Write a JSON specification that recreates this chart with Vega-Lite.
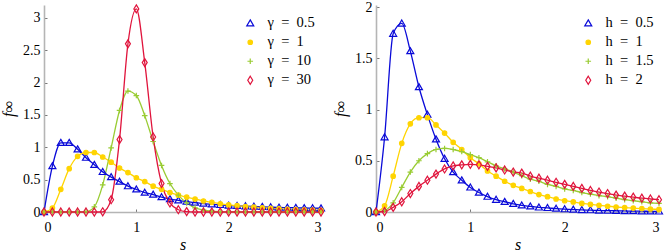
{
  "$schema": "https://vega.github.io/schema/vega-lite/v6.json",
  "padding": {"left": 0, "top": 0, "right": 0, "bottom": 0},
  "bounds": "flush",
  "spacing": 55,
  "config": {
    "view": {"stroke": null},
    "font": "Liberation Serif, Times New Roman, serif",
    "axis": {
      "grid": false,
      "domainColor": "#b5b5b5",
      "domainWidth": 1.6,
      "tickColor": "#555555",
      "tickSize": -3,
      "tickWidth": 0.8,
      "labelFont": "Liberation Serif, Times New Roman, serif",
      "labelFontSize": 14,
      "labelColor": "#000000",
      "titleFont": "Liberation Serif, Times New Roman, serif",
      "titleFontSize": 16,
      "titleFontWeight": "normal",
      "titleFontStyle": "italic",
      "titleColor": "#000000",
      "format": "~g"
    },
    "legend": {
      "labelFont": "Liberation Serif, Times New Roman, serif",
      "labelFontSize": 14.5,
      "labelColor": "#000000",
      "symbolSize": 64,
      "symbolStrokeWidth": 1.2,
      "rowPadding": 4,
      "labelOffset": 10,
      "padding": 0,
      "orient": "none"
    }
  },
  "datasets": {
    "L": [
      {"s": 0, "a": 0, "b": 0, "c": 0, "d": 0},
      {"s": 0.091, "a": 0.71, "b": 0.06, "c": 0, "d": 0},
      {"s": 0.182, "a": 1.07, "b": 0.35, "c": 0, "d": 0},
      {"s": 0.273, "a": 1.07, "b": 0.67, "c": 0, "d": 0},
      {"s": 0.364, "a": 0.97, "b": 0.86, "c": 0, "d": 0},
      {"s": 0.455, "a": 0.84, "b": 0.92, "c": 0.005, "d": 0},
      {"s": 0.545, "a": 0.73, "b": 0.92, "c": 0.08, "d": 0},
      {"s": 0.636, "a": 0.62, "b": 0.85, "c": 0.42, "d": 0.003},
      {"s": 0.727, "a": 0.54, "b": 0.77, "c": 0.99, "d": 0.19},
      {"s": 0.818, "a": 0.47, "b": 0.68, "c": 1.57, "d": 1.12},
      {"s": 0.909, "a": 0.40, "b": 0.61, "c": 1.87, "d": 2.60},
      {"s": 1.0, "a": 0.35, "b": 0.53, "c": 1.80, "d": 3.14},
      {"s": 1.091, "a": 0.30, "b": 0.47, "c": 1.49, "d": 2.31},
      {"s": 1.182, "a": 0.27, "b": 0.40, "c": 1.09, "d": 1.16},
      {"s": 1.273, "a": 0.23, "b": 0.35, "c": 0.72, "d": 0.44},
      {"s": 1.364, "a": 0.20, "b": 0.30, "c": 0.44, "d": 0.14},
      {"s": 1.455, "a": 0.18, "b": 0.26, "c": 0.26, "d": 0.035},
      {"s": 1.545, "a": 0.16, "b": 0.23, "c": 0.14, "d": 0.006},
      {"s": 1.636, "a": 0.145, "b": 0.20, "c": 0.065, "d": 0},
      {"s": 1.727, "a": 0.13, "b": 0.17, "c": 0.03, "d": 0},
      {"s": 1.818, "a": 0.12, "b": 0.15, "c": 0.012, "d": 0},
      {"s": 1.909, "a": 0.11, "b": 0.127, "c": 0.005, "d": 0},
      {"s": 2.0, "a": 0.10, "b": 0.11, "c": 0.002, "d": 0},
      {"s": 2.091, "a": 0.095, "b": 0.098, "c": 0, "d": 0},
      {"s": 2.182, "a": 0.09, "b": 0.084, "c": 0, "d": 0},
      {"s": 2.273, "a": 0.085, "b": 0.074, "c": 0, "d": 0},
      {"s": 2.364, "a": 0.08, "b": 0.065, "c": 0, "d": 0},
      {"s": 2.455, "a": 0.075, "b": 0.056, "c": 0, "d": 0},
      {"s": 2.545, "a": 0.07, "b": 0.049, "c": 0, "d": 0},
      {"s": 2.636, "a": 0.068, "b": 0.043, "c": 0, "d": 0},
      {"s": 2.727, "a": 0.065, "b": 0.038, "c": 0, "d": 0},
      {"s": 2.818, "a": 0.062, "b": 0.033, "c": 0, "d": 0},
      {"s": 2.909, "a": 0.06, "b": 0.029, "c": 0, "d": 0},
      {"s": 3.0, "a": 0.058, "b": 0.025, "c": 0, "d": 0}
    ],
    "R": [
      {"s": 0, "a": 0, "b": 0, "c": 0, "d": 0},
      {"s": 0.091, "a": 0.73, "b": 0.06, "c": 0.015, "d": 0.005},
      {"s": 0.182, "a": 1.74, "b": 0.35, "c": 0.09, "d": 0.045},
      {"s": 0.273, "a": 1.84, "b": 0.67, "c": 0.24, "d": 0.10},
      {"s": 0.364, "a": 1.57, "b": 0.86, "c": 0.39, "d": 0.18},
      {"s": 0.455, "a": 1.22, "b": 0.92, "c": 0.50, "d": 0.25},
      {"s": 0.545, "a": 0.95, "b": 0.92, "c": 0.57, "d": 0.31},
      {"s": 0.636, "a": 0.71, "b": 0.85, "c": 0.61, "d": 0.37},
      {"s": 0.727, "a": 0.52, "b": 0.77, "c": 0.62, "d": 0.42},
      {"s": 0.818, "a": 0.39, "b": 0.68, "c": 0.61, "d": 0.45},
      {"s": 0.909, "a": 0.31, "b": 0.61, "c": 0.59, "d": 0.46},
      {"s": 1.0, "a": 0.24, "b": 0.53, "c": 0.56, "d": 0.465},
      {"s": 1.091, "a": 0.19, "b": 0.47, "c": 0.53, "d": 0.46},
      {"s": 1.182, "a": 0.15, "b": 0.40, "c": 0.49, "d": 0.445},
      {"s": 1.273, "a": 0.12, "b": 0.35, "c": 0.45, "d": 0.43},
      {"s": 1.364, "a": 0.10, "b": 0.30, "c": 0.42, "d": 0.41},
      {"s": 1.455, "a": 0.08, "b": 0.26, "c": 0.39, "d": 0.39},
      {"s": 1.545, "a": 0.065, "b": 0.23, "c": 0.355, "d": 0.38},
      {"s": 1.636, "a": 0.055, "b": 0.20, "c": 0.32, "d": 0.35},
      {"s": 1.727, "a": 0.045, "b": 0.17, "c": 0.30, "d": 0.33},
      {"s": 1.818, "a": 0.04, "b": 0.15, "c": 0.27, "d": 0.31},
      {"s": 1.909, "a": 0.033, "b": 0.127, "c": 0.25, "d": 0.29},
      {"s": 2.0, "a": 0.028, "b": 0.11, "c": 0.225, "d": 0.27},
      {"s": 2.091, "a": 0.024, "b": 0.098, "c": 0.21, "d": 0.25},
      {"s": 2.182, "a": 0.02, "b": 0.084, "c": 0.19, "d": 0.23},
      {"s": 2.273, "a": 0.018, "b": 0.074, "c": 0.175, "d": 0.21},
      {"s": 2.364, "a": 0.015, "b": 0.065, "c": 0.16, "d": 0.195},
      {"s": 2.455, "a": 0.013, "b": 0.056, "c": 0.15, "d": 0.18},
      {"s": 2.545, "a": 0.012, "b": 0.049, "c": 0.135, "d": 0.165},
      {"s": 2.636, "a": 0.01, "b": 0.043, "c": 0.12, "d": 0.155},
      {"s": 2.727, "a": 0.009, "b": 0.038, "c": 0.11, "d": 0.145},
      {"s": 2.818, "a": 0.008, "b": 0.033, "c": 0.10, "d": 0.135},
      {"s": 2.909, "a": 0.007, "b": 0.029, "c": 0.09, "d": 0.127},
      {"s": 3.0, "a": 0.006, "b": 0.025, "c": 0.085, "d": 0.12}
    ]
  },
  "hconcat": [
    {
      "width": 277,
      "height": 207,
      "data": {"name": "L"},
      "transform": [{"fold": ["a", "b", "c", "d"], "as": ["series", "f"]}],
      "encoding": {
        "x": {"field": "s", "type": "quantitative", "title": "s",
              "scale": {"domain": [0, 3], "nice": false},
              "axis": {"values": [0, 1, 2, 3], "labelPadding": 11, "titlePadding": 2}},
        "y": {"field": "f", "type": "quantitative", "title": "f∞",
              "scale": {"domain": [0, 3.2], "nice": false},
              "axis": {"values": [0, 0.5, 1, 1.5, 2, 2.5, 3], "labelPadding": 7, "titlePadding": 6}}
      },
      "layer": [
        {
          "mark": {"type": "line", "interpolate": "monotone", "strokeWidth": 1.3},
          "encoding": {
            "color": {"field": "series", "type": "nominal", "legend": null,
                      "scale": {"domain": ["d", "c", "b", "a"], "range": ["#e0143c", "#99cc33", "#ffd400", "#0a0ad8"]}}
          }
        },
        {
          "mark": {"type": "point", "size": 64, "strokeWidth": 1.2, "opacity": 1},
          "encoding": {
            "stroke": {"field": "series", "type": "nominal",
                       "scale": {"domain": ["a", "b", "c", "d"], "range": ["#0a0ad8", "#ffd400", "#99cc33", "#e0143c"]},
                       "legend": {"title": null, "legendX": 199, "legendY": 11, "labelExpr": "datum.label == 'a' ? 'γ\u2002=\u20020.5' : datum.label == 'b' ? 'γ\u2002=\u20021' : datum.label == 'c' ? 'γ\u2002=\u200210' : 'γ\u2002=\u200230'"}},
            "fill": {"field": "series", "type": "nominal",
                     "scale": {"domain": ["a", "b", "c", "d"], "range": ["transparent", "#ffd400", "transparent", "transparent"]},
                     "legend": {"title": null, "legendX": 199, "legendY": 11, "labelExpr": "datum.label == 'a' ? 'γ\u2002=\u20020.5' : datum.label == 'b' ? 'γ\u2002=\u20021' : datum.label == 'c' ? 'γ\u2002=\u200210' : 'γ\u2002=\u200230'"}},
            "shape": {"field": "series", "type": "nominal",
                      "scale": {"domain": ["a", "b", "c", "d"], "range": ["M0,-0.85L0.875,0.65L-0.875,0.65Z", "M0.56,0A0.56,0.56,0,1,1,-0.56,0A0.56,0.56,0,1,1,0.56,0Z", "M-0.7,0L0.7,0M0,-0.7L0,0.7", "M0,-1L0.62,0L0,1L-0.62,0Z"]},
                      "legend": {"title": null, "legendX": 199, "legendY": 11, "labelExpr": "datum.label == 'a' ? 'γ\u2002=\u20020.5' : datum.label == 'b' ? 'γ\u2002=\u20021' : datum.label == 'c' ? 'γ\u2002=\u200210' : 'γ\u2002=\u200230'"}}
          }
        }
      ]
    },
    {
      "width": 283,
      "height": 207,
      "data": {"name": "R"},
      "transform": [{"fold": ["a", "b", "c", "d"], "as": ["series", "f"]}],
      "encoding": {
        "x": {"field": "s", "type": "quantitative", "title": "s",
              "scale": {"domain": [0, 3], "nice": false},
              "axis": {"values": [0, 1, 2, 3], "labelPadding": 11, "titlePadding": 2}},
        "y": {"field": "f", "type": "quantitative", "title": "f∞",
              "scale": {"domain": [0, 2.02], "nice": false},
              "axis": {"values": [0, 0.5, 1, 1.5, 2], "labelPadding": 7, "titlePadding": 6}}
      },
      "layer": [
        {
          "mark": {"type": "line", "interpolate": "monotone", "strokeWidth": 1.3},
          "encoding": {
            "color": {"field": "series", "type": "nominal", "legend": null,
                      "scale": {"domain": ["d", "c", "b", "a"], "range": ["#e0143c", "#99cc33", "#ffd400", "#0a0ad8"]}}
          }
        },
        {
          "mark": {"type": "point", "size": 64, "strokeWidth": 1.2, "opacity": 1},
          "encoding": {
            "stroke": {"field": "series", "type": "nominal",
                       "scale": {"domain": ["a", "b", "c", "d"], "range": ["#0a0ad8", "#ffd400", "#99cc33", "#e0143c"]},
                       "legend": {"title": null, "legendX": 205, "legendY": 11, "labelExpr": "datum.label == 'a' ? 'h\u2002=\u20020.5' : datum.label == 'b' ? 'h\u2002=\u20021' : datum.label == 'c' ? 'h\u2002=\u20021.5' : 'h\u2002=\u20022'"}},
            "fill": {"field": "series", "type": "nominal",
                     "scale": {"domain": ["a", "b", "c", "d"], "range": ["transparent", "#ffd400", "transparent", "transparent"]},
                     "legend": {"title": null, "legendX": 205, "legendY": 11, "labelExpr": "datum.label == 'a' ? 'h\u2002=\u20020.5' : datum.label == 'b' ? 'h\u2002=\u20021' : datum.label == 'c' ? 'h\u2002=\u20021.5' : 'h\u2002=\u20022'"}},
            "shape": {"field": "series", "type": "nominal",
                      "scale": {"domain": ["a", "b", "c", "d"], "range": ["M0,-0.85L0.875,0.65L-0.875,0.65Z", "M0.56,0A0.56,0.56,0,1,1,-0.56,0A0.56,0.56,0,1,1,0.56,0Z", "M-0.7,0L0.7,0M0,-0.7L0,0.7", "M0,-1L0.62,0L0,1L-0.62,0Z"]},
                      "legend": {"title": null, "legendX": 205, "legendY": 11, "labelExpr": "datum.label == 'a' ? 'h\u2002=\u20020.5' : datum.label == 'b' ? 'h\u2002=\u20021' : datum.label == 'c' ? 'h\u2002=\u20021.5' : 'h\u2002=\u20022'"}}
          }
        }
      ]
    }
  ],
  "resolve": {
    "scale": {"color": "independent", "stroke": "independent", "fill": "independent", "shape": "independent", "x": "independent", "y": "independent"},
    "legend": {"stroke": "independent", "fill": "independent", "shape": "independent"}
  }
}
